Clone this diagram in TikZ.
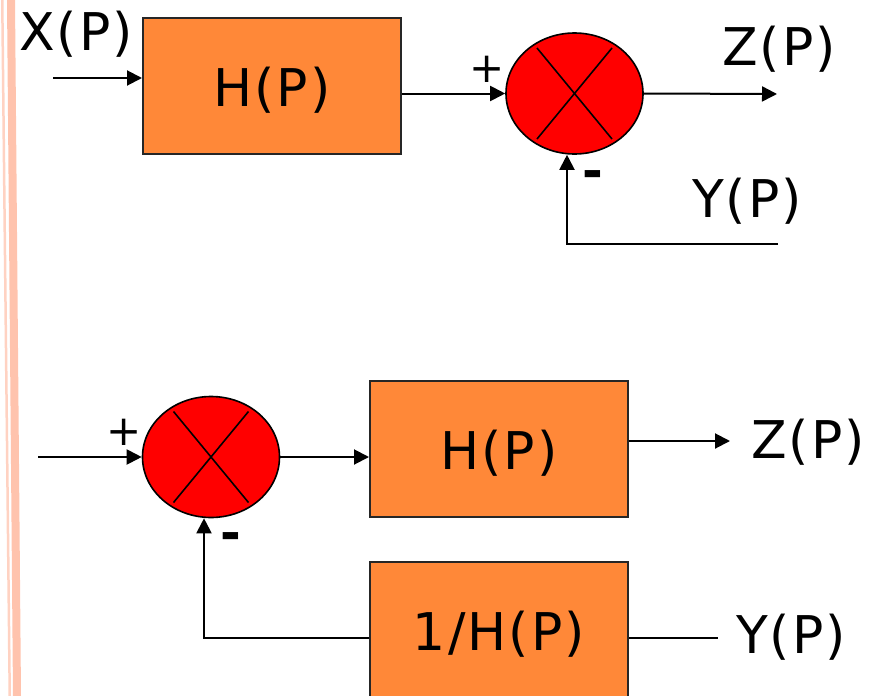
\documentclass[tikz,border=0pt]{standalone}
\usepackage{fontspec}
\setmainfont{DejaVu Sans}
\newfontfamily\lblfont[LetterSpace=4]{DejaVu Sans}
\usetikzlibrary{arrows.meta,shapes.geometric}
\definecolor{boxorange}{HTML}{FF8838}
\definecolor{stripe}{HTML}{FFC3AD}
\definecolor{stripelight}{HTML}{FFD2C2}
\tikzset{
  blk/.style={draw=black!85,line width=2pt,fill=boxorange,minimum width=258pt,minimum height=136pt,inner sep=0pt,
    font=\lblfont\fontsize{52}{60}\selectfont,text height=41pt,text depth=0pt},
  summer/.style={ellipse,draw=black,line width=1.6pt,fill=red,minimum width=137pt,minimum height=121pt,inner sep=0pt},
  sig/.style={anchor=base,inner sep=0pt,font=\lblfont\fontsize{52}{60}\selectfont},
  plus/.style={anchor=base,inner sep=0pt,font=\fontsize{42}{48}\selectfont},
  minus/.style={anchor=base,inner sep=0pt,font=\fontsize{50}{56}\bfseries\selectfont},
  arr/.style={line width=2pt,-{Triangle[length=15pt,width=15pt]}},
  ln/.style={line width=2pt},
  crossln/.style={line width=1.6pt}
}
\begin{document}
\begin{tikzpicture}[x=1pt,y=-1pt]
\useasboundingbox (0,0) rectangle (870,696);
% left decorative stripes
\fill[stripelight] (1,0) -- (3.5,0) -- (11,696) -- (8.5,696) -- cycle;
\fill[stripe] (7,0) -- (15,0) -- (21,696) -- (13,696) -- cycle;

% ---------- top diagram ----------
\node[blk] (box1) at (272,86) {H(P)};
\node[summer] (sum1) at (574.5,93.5) {};
\draw[crossln] ([shift={(-37.5,-45.5)}]sum1.center) -- ([shift={(37.5,45.5)}]sum1.center);
\draw[crossln] ([shift={(37.5,-45.5)}]sum1.center) -- ([shift={(-37.5,45.5)}]sum1.center);

\coordinate (in1) at (53,78);
\coordinate (zt) at (777,94);
\coordinate (yt) at (778,244);

\draw[arr] (in1) -- (in1 -| box1.west);
\draw[arr] (box1.east |- sum1.center) -- (sum1.west);
\draw[arr] (sum1.east) -- (zt);
\draw[arr] (yt) -| ([xshift=-7.5pt]sum1.south);

\node[sig] (xt) at (76,50) {X(P)};
\node[sig] (zlt) at (779,65) {Z(P)};
\node[sig] (ylt) at (747,217) {Y(P)};
\node[plus] (p1) at (487,82) {+};
\node[minus] (m1) at (593,188) {-};

% ---------- bottom diagram ----------
\node[summer] (sum2) at (211,457) {};
\draw[crossln] ([shift={(-37.5,-45.5)}]sum2.center) -- ([shift={(37.5,45.5)}]sum2.center);
\draw[crossln] ([shift={(37.5,-45.5)}]sum2.center) -- ([shift={(-37.5,45.5)}]sum2.center);
\node[blk] (box2) at (499,449) {H(P)};
\node[blk] (box3) at (499,630) {1/H(P)};

\coordinate (in2) at (38,457);
\coordinate (zb) at (730,441);
\coordinate (yb) at (718,637.5);

\draw[arr] (in2) -- (sum2.west);
\draw[arr] (sum2.east) -- (sum2.east -| box2.west);
\draw[arr] (box2.east |- zb) -- (zb);
\draw[arr] (box3.west |- yb) -| ([xshift=-7pt]sum2.south);
\draw[ln] (box3.east |- yb) -- (yb);

\node[sig] (zlb) at (808,458) {Z(P)};
\node[sig] (ylb) at (791,653) {Y(P)};
\node[plus] (p2) at (124,445) {+};
\node[minus] (m2) at (231,550) {-};
\end{tikzpicture}
\end{document}
